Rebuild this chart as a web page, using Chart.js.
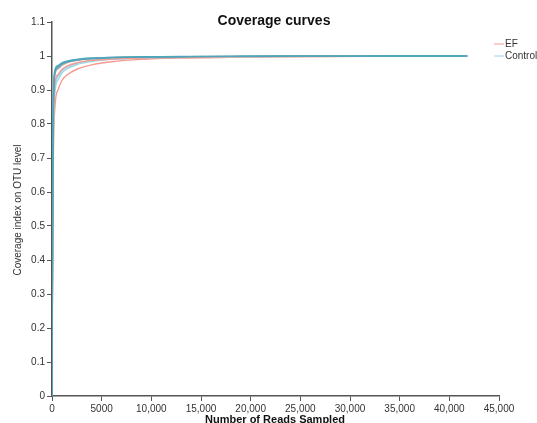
<!DOCTYPE html>
<html>
<head>
<meta charset="utf-8">
<script src="https://cdn.jsdelivr.net/npm/chart.js@4"></script>
<style>
  html, body { margin: 0; padding: 0; background: #fff; }
  #wrap { width: 537px; height: 423px; }
</style>
</head>
<body>
<div id="wrap"><canvas id="coverageChart" width="537" height="423"></canvas></div>
<script>
// --- data ---
const reads = [0, 100, 300, 600, 1000, 1500, 2500, 4000, 6000, 9000, 13000, 18000, 25000, 33000, 41800];

// EF samples (salmon)
const ef1 = [0, 0.60, 0.85, 0.90, 0.928, 0.944, 0.961, 0.974, 0.983, 0.99, 0.994, 0.996, 0.998, 0.999, 0.9995];
const ef2 = [0, 0.70, 0.92, 0.945, 0.96, 0.97, 0.98, 0.987, 0.991, 0.994, 0.996, 0.998, 0.999, 0.9995, 0.9998];
const ef3 = [0, 0.75, 0.945, 0.962, 0.972, 0.98, 0.987, 0.992, 0.995, 0.997, 0.998, 0.999, 0.9995, 0.9998, 0.9999];

// Control samples (light blue + darker teal)
const ctrl1 = [0, 0.66, 0.895, 0.93, 0.95, 0.962, 0.975, 0.984, 0.99, 0.994, 0.996, 0.998, 0.999, 0.9995, 0.9998];
const ctrl2 = [0, 0.68, 0.91, 0.94, 0.957, 0.968, 0.979, 0.987, 0.992, 0.995, 0.997, 0.998, 0.999, 0.9996, 0.9999];
const ctrl3 = [0, 0.78, 0.955, 0.968, 0.977, 0.983, 0.989, 0.993, 0.996, 0.997, 0.998, 0.999, 0.9995, 0.9998, 0.9999];
const ctrl4 = [0, 0.80, 0.96, 0.972, 0.98, 0.985, 0.99, 0.994, 0.996, 0.9975, 0.9985, 0.999, 0.9996, 0.9998, 1.0];
const ctrl5 = [0, 0.77, 0.95, 0.965, 0.975, 0.982, 0.988, 0.992, 0.995, 0.997, 0.998, 0.999, 0.9995, 0.9998, 0.9999];

const xTicks = [0, 5000, 10000, 15000, 20000, 25000, 30000, 35000, 40000, 45000];
const xTickLabels = ['0', '5000', '10,000', '15,000', '20,000', '25,000', '30,000', '35,000', '40,000', '45,000'];
const yTicks = [0, 0.1, 0.2, 0.3, 0.4, 0.5, 0.6, 0.7, 0.8, 0.9, 1, 1.1];
const yTickLabels = ['0', '0.1', '0.2', '0.3', '0.4', '0.5', '0.6', '0.7', '0.8', '0.9', '1', '1.1'];

const RED = '#f59a92';
const LIGHTBLUE = '#93d6e8';
const TEAL = '#4da6ba';
const FONT = '"Liberation Sans", Arial, sans-serif';

function toPoints(ys) {
    return reads.map((x, i) => ({ x: x, y: ys[i] }));
}

function line(label, ys, color) {
    return {
        label: label,
        data: toPoints(ys),
        borderColor: color,
        borderWidth: 1.4,
        pointRadius: 0,
        fill: false,
        cubicInterpolationMode: 'monotone'
    };
}

// titles and legend are drawn at fixed spots, like in the picture
const textPlugin = {
    id: 'texts',
    afterDraw(chart) {
        const c = chart.ctx;
        c.save();
        c.fillStyle = '#111';
        c.textAlign = 'center';
        c.textBaseline = 'middle';
        c.font = 'bold 14px ' + FONT;
        c.fillText('Coverage curves', 274, 21);

        c.font = 'bold 11px ' + FONT;
        c.fillText('Number of Reads Sampled', 275, 420);

        c.fillStyle = '#333';
        c.font = '10px ' + FONT;
        c.translate(18, 210);
        c.rotate(-Math.PI / 2);
        c.fillText('Coverage index on OTU level', 0, 0);
        c.restore();

        // legend
        c.save();
        c.font = '10px ' + FONT;
        c.textAlign = 'left';
        c.textBaseline = 'middle';
        c.lineWidth = 1;
        [['EF', RED, 44], ['Control', LIGHTBLUE, 56]].forEach(([t, col, y]) => {
            c.strokeStyle = col;
            c.beginPath();
            c.moveTo(494, y);
            c.lineTo(504, y);
            c.stroke();
            c.fillStyle = '#333';
            c.fillText(t, 505, y);
        });
        c.restore();
    }
};

const ctx = document.getElementById('coverageChart').getContext('2d');
new Chart(ctx, {
    type: 'line',
    data: {
        datasets: [
            line('Control', ctrl4, TEAL),
            line('Control', ctrl3, TEAL),
            line('Control', ctrl5, '#5fb3c6'),
            line('EF', ef3, RED),
            line('EF', ef2, RED),
            line('Control', ctrl2, LIGHTBLUE),
            line('Control', ctrl1, LIGHTBLUE),
            line('EF', ef1, RED)
        ]
    },
    options: {
        responsive: false,
        animation: false,
        layout: { padding: { left: 0, right: 38, top: 22, bottom: 0 } },
        plugins: {
            legend: { display: false },
            tooltip: { enabled: false }
        },
        scales: {
            x: {
                type: 'linear',
                min: 0,
                max: 45000,
                afterBuildTicks(scale) { scale.ticks = xTicks.map(v => ({ value: v })); },
                afterFit(scale) { scale.height = 27; },
                ticks: {
                    color: '#333',
                    font: { size: 10, family: FONT },
                    padding: 2,
                    maxRotation: 0,
                    autoSkip: false,
                    callback: (v, i) => xTickLabels[i]
                },
                grid: { drawOnChartArea: false, drawTicks: true, tickLength: 5, color: '#555', lineWidth: 1 },
                border: { display: true, color: '#555', width: 1.5 }
            },
            y: {
                min: 0,
                max: 1.1,
                afterBuildTicks(scale) { scale.ticks = yTicks.map(v => ({ value: v })); },
                afterFit(scale) { scale.width = 52; },
                ticks: {
                    color: '#333',
                    font: { size: 10, family: FONT },
                    padding: 2,
                    autoSkip: false,
                    callback: (v, i) => yTickLabels[i]
                },
                grid: { drawOnChartArea: false, drawTicks: true, tickLength: 5, color: '#555', lineWidth: 1 },
                border: { display: true, color: '#555', width: 1.5 }
            }
        }
    },
    plugins: [textPlugin]
});
</script>
</body>
</html>
